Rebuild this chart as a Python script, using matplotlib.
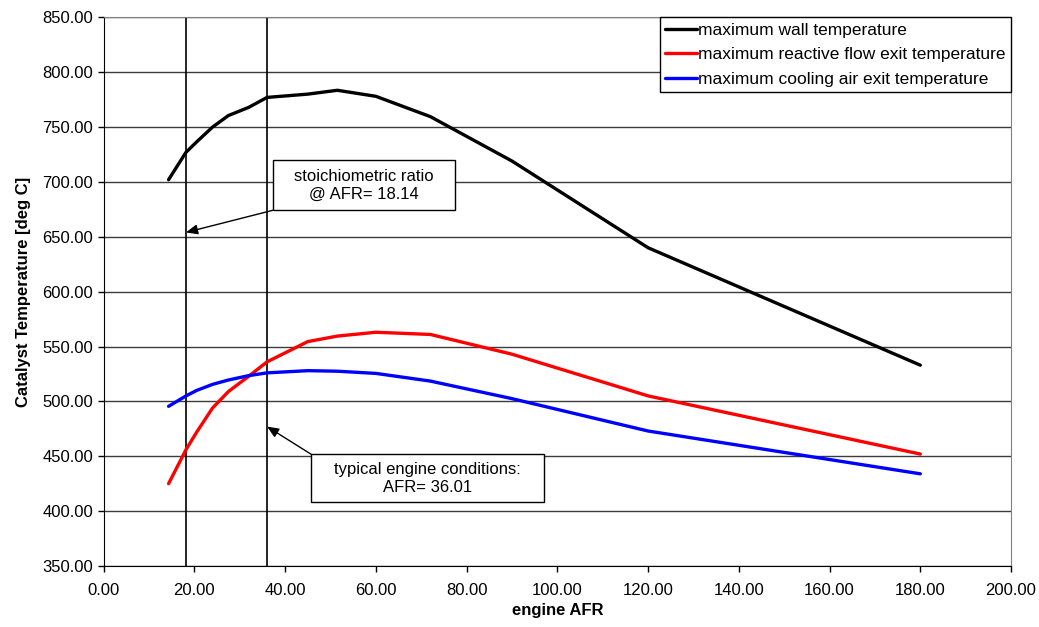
import numpy as np
import matplotlib.pyplot as plt
from matplotlib.patches import Rectangle

plt.rcParams['font.family'] = ['Liberation Sans', 'DejaVu Sans']

# engine air/fuel ratio (shared by all three series)
afr = [14.3, 18.14, 20.5, 24.0, 27.5, 32.0, 36.0, 45.0, 51.5, 60.0, 72.0, 90.0, 120.0, 180.0]

wall_temp    = [702, 727, 736.5, 750, 760.5, 768, 777, 780, 783.5, 778, 759.5, 719, 640, 533]
reactive_out = [425, 456, 472, 494, 509, 523, 536, 554.5, 559.5, 563, 561, 543, 505, 452]
cooling_out  = [495.5, 505, 510, 515.5, 519.5, 523.5, 526, 528, 527.5, 525.5, 518.5, 502.5, 473, 434]

series_names = ['maximum wall temperature',
                'maximum reactive flow exit temperature',
                'maximum cooling air exit temperature']

stoich_afr  = 18.14
typical_afr = 36.01

fontsize = 12

fig = plt.figure(figsize=(10.39, 6.27), dpi=100)
ax = fig.add_axes([0.0998, 0.0973, 0.8733, 0.8751])

l1, = ax.plot(afr, wall_temp,    color='black', lw=2.4, solid_capstyle='round')
l2, = ax.plot(afr, reactive_out, color='red',   lw=2.4, solid_capstyle='round')
l3, = ax.plot(afr, cooling_out,  color='blue',  lw=2.4, solid_capstyle='round')

ax.axvline(stoich_afr,  color='black', lw=1.2, zorder=1)
ax.axvline(typical_afr, color='black', lw=1.2, zorder=1)

ax.set_xlim(0, 200)
ax.set_ylim(350, 850)
ax.set_xticks(np.arange(0, 201, 20))
ax.set_yticks(np.arange(350, 851, 50))
ax.xaxis.set_major_formatter(plt.FormatStrFormatter('%.2f'))
ax.yaxis.set_major_formatter(plt.FormatStrFormatter('%.2f'))
ax.tick_params(labelsize=fontsize, length=4, width=1, direction='out')
ax.tick_params(axis='x', pad=8)

ax.yaxis.grid(True, color='#3c3c3c', lw=1.0)
ax.set_axisbelow(True)
for s in ('top', 'right'):
    ax.spines[s].set_color('#808080')
for s in ('left', 'bottom'):
    ax.spines[s].set_color('black')

ax.set_xlabel('engine AFR', fontsize=fontsize, fontweight='bold', labelpad=4)
ax.set_ylabel('Catalyst Temperature [deg C]', fontsize=fontsize, fontweight='bold', labelpad=8)


def callout(text, center, size, tip, corner):
    """Boxed note with an arrow running from one corner of the box to tip."""
    cx, cy = center
    w, h = size
    ax.add_patch(Rectangle((cx - w / 2, cy - h / 2), w, h, fc='white', ec='black',
                           lw=1.0, zorder=4))
    ax.text(cx, cy, text, ha='center', va='center', fontsize=fontsize,
            multialignment='center', linespacing=1.25, zorder=5)
    start = (cx + corner[0] * w / 2, cy + corner[1] * h / 2)
    ax.annotate('', xy=tip, xytext=start, zorder=5,
                arrowprops=dict(arrowstyle='-|>,head_length=0.7,head_width=0.3',
                                color='black', lw=1.0, shrinkA=0, shrinkB=0))


callout('stoichiometric ratio\n@ AFR= 18.14', (57.4, 697), (40.1, 45.6),
        (stoich_afr, 654), (-1, -1))
callout('typical engine conditions:\nAFR= 36.01', (71.4, 430), (51.4, 43.8),
        (typical_afr, 477), (-1, 1))

leg = ax.legend([l1, l2, l3], series_names, loc='upper right', fontsize=12.5,
                frameon=True, fancybox=False, framealpha=1, edgecolor='black',
                borderaxespad=0, handlelength=1.85, handletextpad=0.05,
                borderpad=0.3, labelspacing=0.55)
leg.get_frame().set_linewidth(1.0)
leg.set_zorder(6)

fig.savefig('out.png', dpi=100)
